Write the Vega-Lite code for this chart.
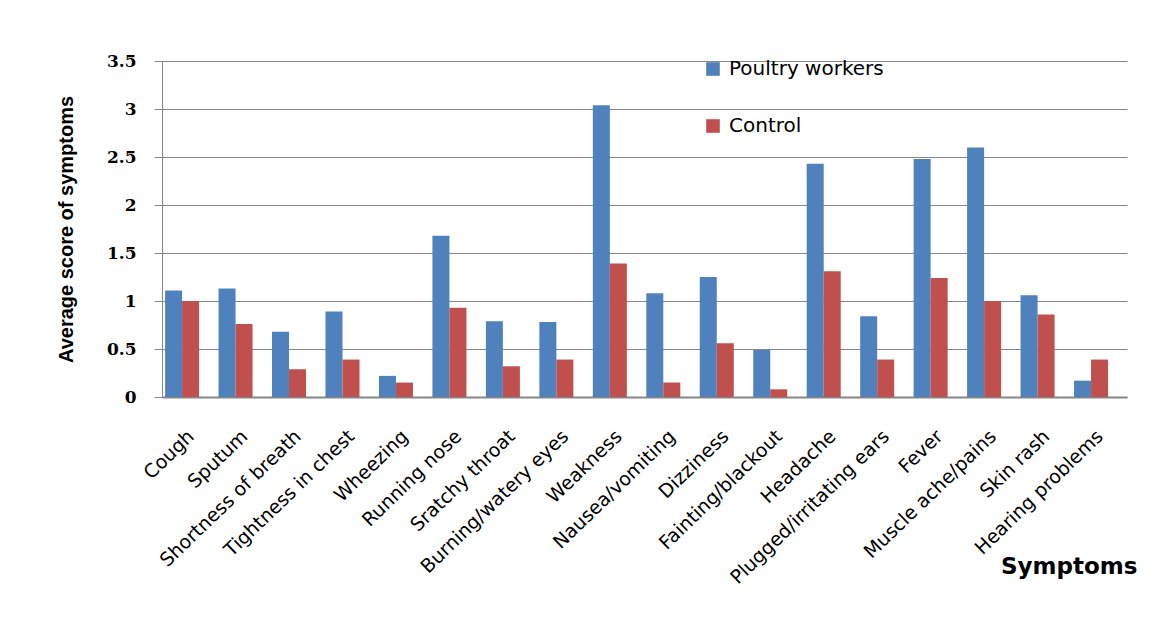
{
  "$schema": "https://vega.github.io/schema/vega-lite/v6.json",
  "width": 965,
  "height": 336,
  "autosize": {"type": "none"},
  "padding": {"left": 162, "top": 61, "right": 22, "bottom": 240},
  "background": "white",
  "config": {"view": {"stroke": null}, "font": "DejaVu Sans"},
  "data": {
    "values": [
      {"symptom": "Cough", "group": "Poultry workers", "score": 1.11},
      {"symptom": "Cough", "group": "Control", "score": 1.0},
      {"symptom": "Sputum", "group": "Poultry workers", "score": 1.13},
      {"symptom": "Sputum", "group": "Control", "score": 0.76},
      {"symptom": "Shortness of breath", "group": "Poultry workers", "score": 0.68},
      {"symptom": "Shortness of breath", "group": "Control", "score": 0.29},
      {"symptom": "Tightness in chest", "group": "Poultry workers", "score": 0.89},
      {"symptom": "Tightness in chest", "group": "Control", "score": 0.39},
      {"symptom": "Wheezing", "group": "Poultry workers", "score": 0.22},
      {"symptom": "Wheezing", "group": "Control", "score": 0.15},
      {"symptom": "Running nose", "group": "Poultry workers", "score": 1.68},
      {"symptom": "Running nose", "group": "Control", "score": 0.93},
      {"symptom": "Sratchy throat", "group": "Poultry workers", "score": 0.79},
      {"symptom": "Sratchy throat", "group": "Control", "score": 0.32},
      {"symptom": "Burning/watery eyes", "group": "Poultry workers", "score": 0.78},
      {"symptom": "Burning/watery eyes", "group": "Control", "score": 0.39},
      {"symptom": "Weakness", "group": "Poultry workers", "score": 3.04},
      {"symptom": "Weakness", "group": "Control", "score": 1.39},
      {"symptom": "Nausea/vomiting", "group": "Poultry workers", "score": 1.08},
      {"symptom": "Nausea/vomiting", "group": "Control", "score": 0.15},
      {"symptom": "Dizziness", "group": "Poultry workers", "score": 1.25},
      {"symptom": "Dizziness", "group": "Control", "score": 0.56},
      {"symptom": "Fainting/blackout", "group": "Poultry workers", "score": 0.49},
      {"symptom": "Fainting/blackout", "group": "Control", "score": 0.08},
      {"symptom": "Headache", "group": "Poultry workers", "score": 2.43},
      {"symptom": "Headache", "group": "Control", "score": 1.31},
      {"symptom": "Plugged/irritating ears", "group": "Poultry workers", "score": 0.84},
      {"symptom": "Plugged/irritating ears", "group": "Control", "score": 0.39},
      {"symptom": "Fever", "group": "Poultry workers", "score": 2.48},
      {"symptom": "Fever", "group": "Control", "score": 1.24},
      {"symptom": "Muscle ache/pains", "group": "Poultry workers", "score": 2.6},
      {"symptom": "Muscle ache/pains", "group": "Control", "score": 1.0},
      {"symptom": "Skin rash", "group": "Poultry workers", "score": 1.06},
      {"symptom": "Skin rash", "group": "Control", "score": 0.86},
      {"symptom": "Hearing problems", "group": "Poultry workers", "score": 0.17},
      {"symptom": "Hearing problems", "group": "Control", "score": 0.39}
    ]
  },
  "mark": {"type": "bar"},
  "encoding": {
    "x": {
      "field": "symptom",
      "type": "nominal",
      "sort": null,
      "scale": {"paddingInner": 0.364, "paddingOuter": 0.206, "align": 0.14},
      "axis": {
        "title": "Symptoms",
        "labelAngle": -44,
        "labelAlign": "right",
        "labelBaseline": "middle",
        "labelFont": "DejaVu Sans",
        "labelFontSize": 19,
        "labelColor": "black",
        "labelPadding": 36,
        "labelOffset": 9,
        "labelOverlap": false,
        "labelLimit": 0,
        "ticks": false,
        "domainColor": "#868686",
        "domainWidth": 2,
        "titleFont": "DejaVu Sans",
        "titleFontWeight": "bold",
        "titleFontSize": 23,
        "titleColor": "black",
        "titleX": 975,
        "titleY": 176,
        "titleAlign": "right",
        "titleBaseline": "alphabetic"
      }
    },
    "xOffset": {
      "field": "group",
      "sort": ["Poultry workers", "Control"],
      "scale": {"paddingInner": 0, "paddingOuter": 0}
    },
    "y": {
      "field": "score",
      "type": "quantitative",
      "scale": {"domain": [0, 3.5], "nice": false},
      "axis": {
        "values": [0, 0.5, 1, 1.5, 2, 2.5, 3, 3.5],
        "format": "~g",
        "title": "Average score of symptoms",
        "labelFont": "DejaVu Serif",
        "labelFontWeight": "bold",
        "labelFontSize": 17,
        "labelColor": "black",
        "labelPadding": 18,
        "tickSize": 8,
        "tickColor": "#868686",
        "domainColor": "#868686",
        "domainWidth": 1,
        "gridColor": "#868686",
        "gridWidth": 1,
        "gridOpacity": 1,
        "titleFont": "Liberation Sans",
        "titleFontWeight": "bold",
        "titleFontSize": 20,
        "titleColor": "black",
        "titleAngle": -90,
        "titleX": -96,
        "titleY": 168,
        "titleAlign": "center",
        "titleBaseline": "middle"
      }
    },
    "color": {
      "field": "group",
      "type": "nominal",
      "scale": {"domain": ["Poultry workers", "Control"], "range": ["#4F81BD", "#C0504D"]},
      "legend": {
        "title": null,
        "orient": "none",
        "legendX": 541,
        "legendY": -2,
        "padding": 0,
        "symbolType": "square",
        "symbolSize": 185,
        "symbolStrokeWidth": 0,
        "labelFont": "DejaVu Sans",
        "labelFontSize": 20,
        "labelColor": "black",
        "labelOffset": 6,
        "rowPadding": 37,
        "labelLimit": 0
      }
    }
  }
}
